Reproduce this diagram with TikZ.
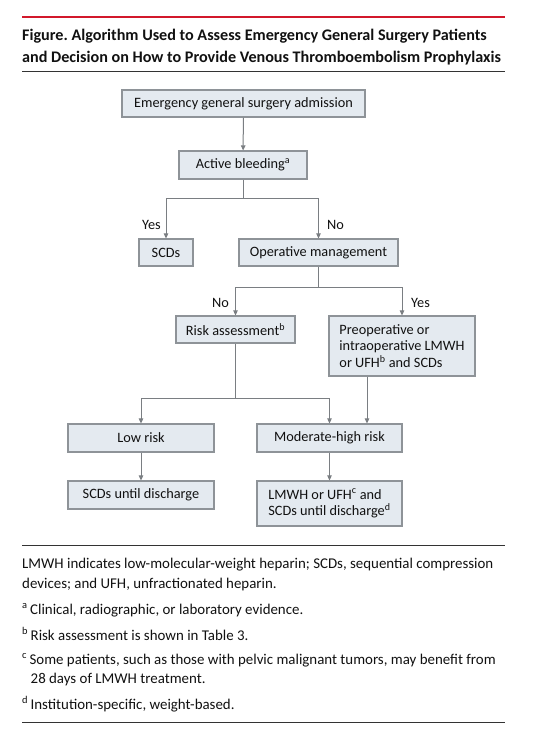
\documentclass[tikz,border=0pt]{standalone}
\usepackage{fontspec}
\setmainfont{Carlito}
\frenchspacing
\usetikzlibrary{arrows.meta,calc}
\definecolor{boxfill}{HTML}{E4EAF0}
\definecolor{boxline}{HTML}{8E9398}
\definecolor{arrowc}{HTML}{7A7E82}
\definecolor{jamared}{HTML}{D2182B}
\definecolor{textc}{HTML}{111111}
\begin{document}
\begin{tikzpicture}[x=1pt,y=-1pt,
  box/.style={draw=boxline,fill=boxfill,line width=1.2pt,inner sep=0pt,
    font=\fontsize{14.3}{16.5}\selectfont,text=textc},
  arr/.style={draw=arrowc,line width=1pt,-{Triangle[length=5pt,width=4.5pt]}},
  ln/.style={draw=arrowc,line width=1pt},
  lbl/.style={font=\fontsize{14.3}{16}\selectfont,text=textc,inner sep=0pt},
  foot/.style={font=\fontsize{14.9}{19}\selectfont,text=textc,inner sep=0pt,anchor=base west},
  ttl/.style={font=\bfseries\fontsize{16.15}{22}\selectfont,text=textc,inner sep=0pt,anchor=base west}]
\useasboundingbox (0,0) rectangle (541,737);
\fill[white] (0,0) rectangle (541,737);
% rules
\draw[jamared,line width=2pt] (22,16.5) -- (505,16.5);
\draw[black!80,line width=1pt] (22,71) -- (505,71);
\draw[black!80,line width=1pt] (22,545.5) -- (505,545.5);
\draw[black!80,line width=1pt] (22,722.5) -- (505,722.5);
% title
\node[ttl] (t1) at (22,40) {Figure. Algorithm Used to Assess Emergency General Surgery Patients};
\node[ttl] (t2) at (22,62) {and Decision on How to Provide Venous Thromboembolism Prophylaxis};
% boxes
\node[box,minimum width=243pt,minimum height=27pt] (adm) at (243.5,103.5) {Emergency general surgery admission};
\node[box,minimum width=128pt,minimum height=28pt] (bleed) at (243,165) {Active bleeding\textsuperscript{a}};
\node[box,minimum width=54pt,minimum height=27pt] (scd) at (166,252.5) {SCDs};
\node[box,minimum width=159pt,minimum height=27pt] (op) at (318.5,252.5) {Operative management};
\node[box,minimum width=119pt,minimum height=27pt] (risk) at (235.5,329.5) {Risk assessment\textsuperscript{b}};
\node[box,minimum width=146pt,minimum height=60pt,align=left] (preop) at (402,346) {Preoperative or\\intraoperative LMWH\\or UFH\textsuperscript{b} and SCDs};
\node[box,minimum width=146pt,minimum height=28pt] (low) at (141,438) {Low risk};
\node[box,minimum width=145pt,minimum height=28pt] (mod) at (329.5,438) {Moderate-high risk};
\node[box,minimum width=146pt,minimum height=28pt] (scdd) at (141,495) {SCDs until discharge};
\node[box,minimum width=145pt,minimum height=45pt,align=left] (lmwh) at (329.5,503.5) {LMWH or UFH\textsuperscript{c} and\\SCDs until discharge\textsuperscript{d}};
% split points
\coordinate (s1) at (243,198);
\coordinate (s2) at (318.5,287);
\coordinate (s3) at (235.5,398);
% connectors
\draw[arr] (adm) -- (bleed);
\draw[ln] (bleed.south) -- (s1);
\draw[arr] (s1) -| (scd.north);
\draw[arr] (s1) -| (op.north);
\draw[ln] (op.south) -- (s2);
\draw[arr] (s2) -| (risk.north);
\draw[arr] (s2) -| (preop.north);
\draw[ln] (risk.south) -- (s3);
\draw[arr] (s3) -| (low.north);
\draw[arr] (s3) -| (mod.north);
\draw[arr] ([xshift=-35pt]preop.south) -- ([xshift=-35pt]preop.south |- mod.north);
\draw[arr] (low) -- (scdd);
\draw[arr] (mod) -- (lmwh);
% labels
\node[lbl,anchor=base east] (yes1) at (161,229) {Yes};
\node[lbl,anchor=base west] (no1) at (327,229) {No};
\node[lbl,anchor=base east] (no2) at (229,307) {No};
\node[lbl,anchor=base west] (yes2) at (411,307) {Yes};
% footnotes
\node[foot] (f1) at (22,568) {LMWH indicates low-molecular-weight heparin; SCDs, sequential compression};
\node[foot] (f2) at (22,588) {devices; and UFH, unfractionated heparin.};
\node[foot] (fa) at (22,614) {\textsuperscript{a}\,Clinical, radiographic, or laboratory evidence.};
\node[foot] (fb) at (22,640) {\textsuperscript{b}\,Risk assessment is shown in Table 3.};
\node[foot] (fc) at (22,664) {\textsuperscript{c}\,Some patients, such as those with pelvic malignant tumors, may benefit from};
\node[foot] (fc2) at (30.5,683) {28 days of LMWH treatment.};
\node[foot] (fd) at (22,709) {\textsuperscript{d}\,Institution-specific, weight-based.};
\end{tikzpicture}
\end{document}
